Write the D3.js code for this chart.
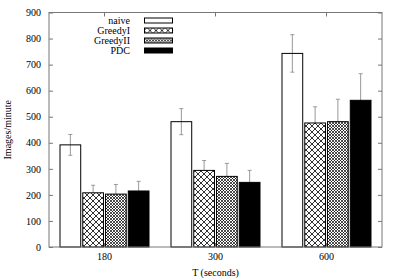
<!DOCTYPE html>
<html>
<head>
<meta charset="utf-8">
<script src="https://cdn.jsdelivr.net/npm/d3@7"></script>
<style>
  body { margin: 0; background: #fff; }
  text { font-family: "Liberation Serif", "DejaVu Serif", serif; font-size: 10px; fill: #000; }
</style>
</head>
<body>
<svg width="399" height="279"></svg>
<script>
const width = 399;
const height = 279;
const margin = ({ top: 12.5, right: 17, bottom: 32, left: 49 });

const periods = ["180", "300", "600"];
const methods = ["naive", "GreedyI", "GreedyII", "PDC"];
const naive = [392, 481, 743];
const greedyI = [208, 294, 476];
const greedyII = [203, 271, 481];
const pdc = [215, 248, 563];
const naiveErr = [40, 50, 72];
const greedyIErr = [29, 38, 62];
const greedyIIErr = [37, 50, 86];
const pdcErr = [37, 46, 102];
const yTicks = [0, 100, 200, 300, 400, 500, 600, 700, 800, 900];

const series = [naive, greedyI, greedyII, pdc];
const errors = [naiveErr, greedyIErr, greedyIIErr, pdcErr];
const rows = [];
methods.forEach((m, i) => periods.forEach((p, j) => {
    rows.push({ method: m, period: p, value: series[i][j], err: errors[i][j] });
}));

const svg = d3.select("svg");
const defs = svg.append("defs");

function hatch(id, size, sw) {
    const p = defs.append("pattern")
        .attr("id", id)
        .attr("patternUnits", "userSpaceOnUse")
        .attr("width", size).attr("height", size);
    p.append("rect").attr("width", size).attr("height", size).attr("fill", "#fff");
    p.append("path")
        .attr("d", `M0,0L${size},${size}M${size},0L0,${size}`)
        .attr("stroke", "#000").attr("stroke-width", sw);
}
hatch("crossI", 6, 0.8);
hatch("crossII", 3, 0.7);

const fills = { naive: "none", GreedyI: "url(#crossI)", GreedyII: "url(#crossII)", PDC: "#000" };

const x = d3.scaleBand()
    .domain(periods)
    .range([margin.left, width - margin.right]);

const xm = d3.scaleBand()
    .domain(methods)
    .range([-44.5, 44.5])
    .paddingInner(0.09);

const y = d3.scaleLinear()
    .domain([0, 900])
    .range([height - margin.bottom, margin.top]);

const frame = "#777";

// ticks (inward, mirrored)
svg.append("g")
    .attr("transform", `translate(${margin.left},0)`)
    .call(d3.axisLeft(y).tickValues(yTicks).tickSizeInner(-4).tickSizeOuter(0).tickPadding(8))
    .call(g => g.select(".domain").remove())
    .call(g => g.selectAll(".tick line").attr("stroke", frame))
    .call(g => g.selectAll(".tick text").attr("font-family", null).attr("font-size", null));

svg.append("g")
    .attr("transform", `translate(${width - margin.right},0)`)
    .call(d3.axisRight(y).tickValues(yTicks).tickSizeInner(-4).tickSizeOuter(0).tickFormat(""))
    .call(g => g.select(".domain").remove())
    .call(g => g.selectAll(".tick line").attr("stroke", frame));

svg.append("g")
    .attr("transform", `translate(0,${height - margin.bottom})`)
    .call(d3.axisBottom(x).tickSizeInner(-4).tickSizeOuter(0).tickPadding(6))
    .call(g => g.select(".domain").remove())
    .call(g => g.selectAll(".tick line").attr("stroke", frame))
    .call(g => g.selectAll(".tick text").attr("font-family", null).attr("font-size", null));

svg.append("g")
    .attr("transform", `translate(0,${margin.top})`)
    .call(d3.axisTop(x).tickSizeInner(-4).tickSizeOuter(0).tickFormat(""))
    .call(g => g.select(".domain").remove())
    .call(g => g.selectAll(".tick line").attr("stroke", frame));

// error bars
const bx = d => x(d.period) + x.bandwidth() / 2 + xm(d.method) + xm.bandwidth() / 2;
const eb = svg.append("g").attr("stroke", "#999").attr("stroke-width", 1);
eb.selectAll("line.v")
    .data(rows)
    .join("line")
    .attr("x1", bx).attr("x2", bx)
    .attr("y1", d => y(d.value - d.err))
    .attr("y2", d => y(d.value + d.err));
eb.selectAll("line.top")
    .data(rows)
    .join("line")
    .attr("x1", d => bx(d) - 2).attr("x2", d => bx(d) + 2)
    .attr("y1", d => y(d.value + d.err))
    .attr("y2", d => y(d.value + d.err));
eb.selectAll("line.bot")
    .data(rows)
    .join("line")
    .attr("x1", d => bx(d) - 2).attr("x2", d => bx(d) + 2)
    .attr("y1", d => y(d.value - d.err))
    .attr("y2", d => y(d.value - d.err));

// bars
svg.append("g")
    .selectAll("rect")
    .data(rows)
    .join("rect")
    .attr("x", d => x(d.period) + x.bandwidth() / 2 + xm(d.method))
    .attr("y", d => y(d.value))
    .attr("width", xm.bandwidth())
    .attr("height", d => y(0) - y(d.value))
    .attr("fill", d => fills[d.method])
    .attr("stroke", "#000")
    .attr("stroke-width", 1);

// frame
svg.append("rect")
    .attr("x", margin.left)
    .attr("y", margin.top)
    .attr("width", width - margin.left - margin.right)
    .attr("height", height - margin.top - margin.bottom)
    .attr("fill", "none")
    .attr("stroke", frame);

// legend
const legend = svg.append("g")
    .selectAll("g")
    .data(methods)
    .join("g")
    .attr("transform", (d, i) => `translate(0,${20.5 + i * 10})`);
legend.append("text")
    .attr("x", 130)
    .attr("dy", "0.33em")
    .attr("text-anchor", "end")
    .text(d => d);
legend.append("rect")
    .attr("x", 144.5)
    .attr("y", -2.5)
    .attr("width", 28)
    .attr("height", 5)
    .attr("fill", d => fills[d] === "none" ? "#fff" : fills[d])
    .attr("stroke", "#000");

// axis labels
svg.append("text")
    .attr("x", (margin.left + width - margin.right) / 2)
    .attr("y", 276)
    .attr("text-anchor", "middle")
    .text("T (seconds)");

svg.append("text")
    .attr("transform", `translate(11,${(margin.top + height - margin.bottom) / 2}) rotate(-90)`)
    .attr("text-anchor", "middle")
    .text("Images/minute");
</script>
</body>
</html>
